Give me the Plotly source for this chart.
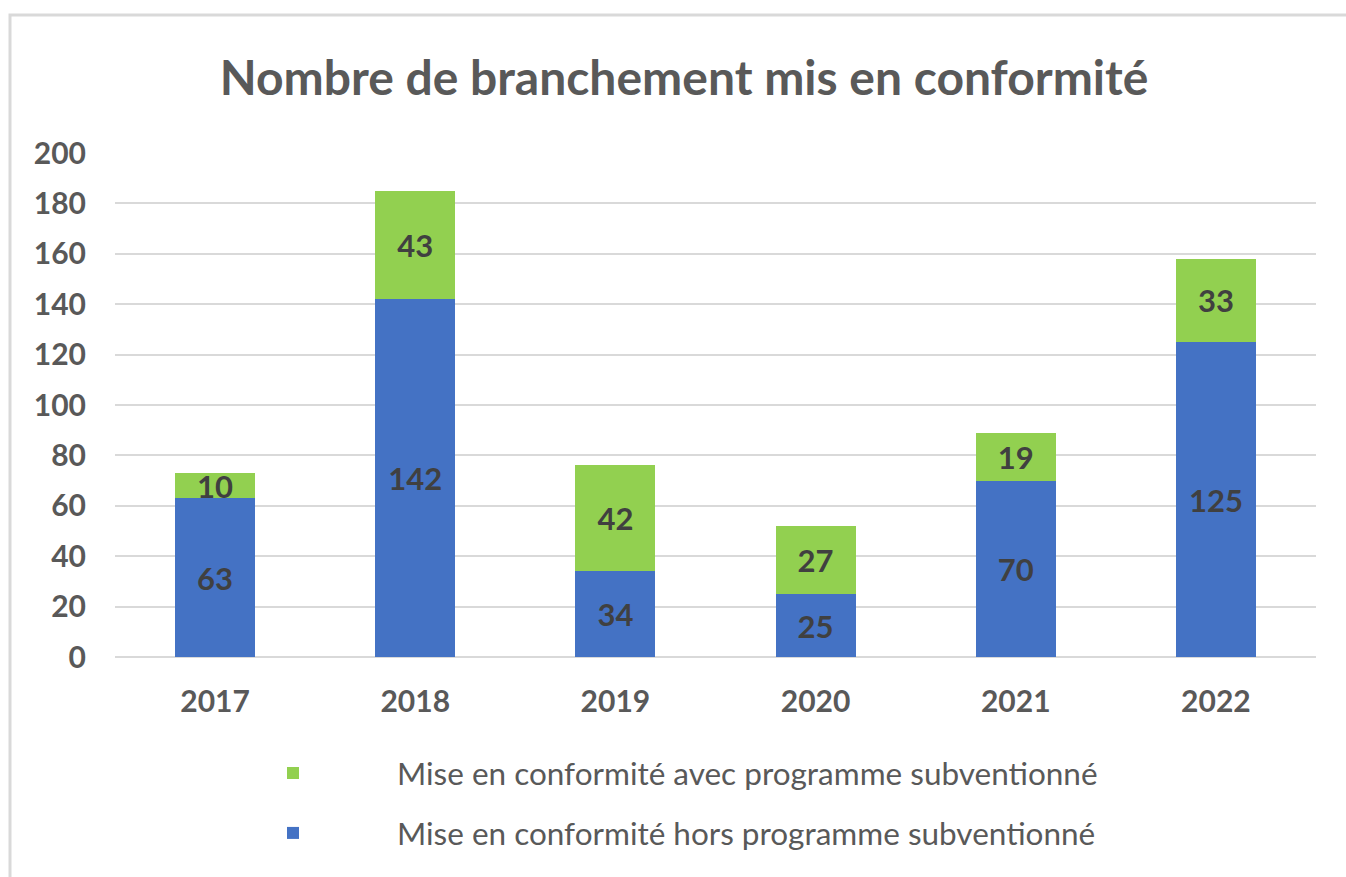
import plotly.graph_objects as go

years = ["2017", "2018", "2019", "2020", "2021", "2022"]
hors_programme = [63, 142, 34, 25, 70, 125]
avec_programme = [10, 43, 42, 27, 19, 33]
name_hors = "Mise en conformité hors programme subventionné"
name_avec = "Mise en conformité avec programme subventionné"
title_text = "Nombre de branchement mis en conformité"

FONT = "Lato"
GREY = "#595959"
LABEL = "#404040"

fig = go.Figure()
fig.add_trace(go.Bar(
    x=years, y=hors_programme, name=name_hors, legendgroup="a", legendrank=2,
    marker=dict(color="#4472C4", line=dict(width=0)),
    text=hors_programme, textposition="inside", insidetextanchor="middle",
    textangle=0, textfont=dict(family=FONT, size=31, color=LABEL, weight="bold"),
))
fig.add_trace(go.Bar(
    x=years, y=avec_programme, name=name_avec, legendgroup="b", legendrank=1,
    marker=dict(color="#92D050", line=dict(width=0)),
    text=avec_programme, textposition="inside", insidetextanchor="middle",
    textangle=0, textfont=dict(family=FONT, size=31, color=LABEL, weight="bold"),
))

fig.update_layout(
    width=1346, height=877,
    barmode="stack", bargap=0.6,
    paper_bgcolor="white", plot_bgcolor="white",
    margin=dict(l=115, r=30, t=153, b=220),
    uniformtext=dict(minsize=31, mode="show"),
    title=dict(text=title_text, x=684 / 1346, xref="container", xanchor="center",
               y=1 - 78 / 877, yanchor="middle", yref="container",
               font=dict(family=FONT, size=48, color=GREY, weight="bold")),
    font=dict(family=FONT, color=GREY),
    xaxis=dict(showgrid=False, showline=False, ticks="",
               tickfont=dict(family=FONT, size=30, color=GREY, weight="bold"),
               ticklabelstandoff=24),
    yaxis=dict(range=[0, 200], dtick=20, showgrid=True, gridcolor="#D9D9D9",
               gridwidth=2, zeroline=True, zerolinecolor="#D9D9D9", zerolinewidth=2,
               showline=False, ticks="",
               tickfont=dict(family=FONT, size=30, color=GREY, weight="bold"),
               ticklabelstandoff=28),
    showlegend=True,
    legend=dict(orientation="v", traceorder="grouped", tracegroupgap=16,
                x=(189 - 115) / 1201, xanchor="left", y=(657 - 746) / 504, yanchor="top",
                itemwidth=198, itemclick=False,
                font=dict(family=FONT, size=31.5, color=GREY)),
    shapes=[dict(type="rect", xref="paper", yref="paper",
                 x0=(10 - 115) / 1201, x1=(1352 - 115) / 1201,
                 y0=-(885 - 657) / 504, y1=(657 - 15) / 504,
                 line=dict(color="#D9D9D9", width=3), fillcolor="rgba(0,0,0,0)",
                 layer="below")],
)

fig.write_html("out.html", config={"displayModeBar": False},
               post_script="document.body.style.margin='0px';")
